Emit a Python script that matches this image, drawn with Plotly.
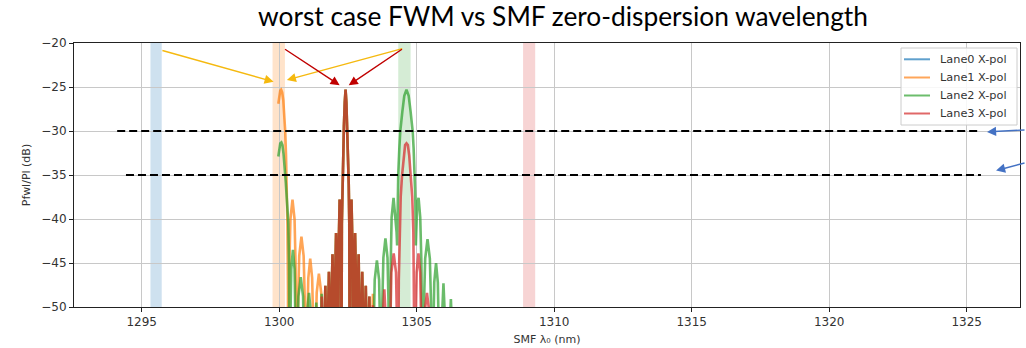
import plotly.graph_objects as go

# ---------------- data ----------------
lane_names = ["Lane0 X-pol", "Lane1 X-pol", "Lane2 X-pol", "Lane3 X-pol"]
lane_colors = ["rgba(31,119,180,0.7)", "rgba(255,127,14,0.7)", "rgba(44,160,44,0.7)", "rgba(214,39,40,0.7)"]
legend_colors = ["#5fa0cd", "#ffa65a", "#6cbd6c", "#e06868"]
band_colors = ["rgba(31,119,180,0.22)", "rgba(255,127,14,0.22)", "rgba(44,160,44,0.20)", "rgba(214,39,40,0.20)"]

# lane wavelength bands (nm)
band_lo = [1295.32, 1299.76, 1304.33, 1308.87]
band_hi = [1295.73, 1300.21, 1304.78, 1309.31]

# threshold levels (dB) and their extents (nm)
threshold_db = [-30, -35]
threshold_x0 = [1294.11, 1294.43]
threshold_x1 = [1325.41, 1325.52]

# central FWM peak shared by Lane1, Lane2 and Lane3
center_x = [1301.615, 1301.635, 1301.68, 1301.725,
            1301.745, 1301.765, 1301.81, 1301.855,
            1301.875, 1301.895, 1301.94, 1301.985,
            1302.005, 1302.025, 1302.07, 1302.115,
            1302.135, 1302.155, 1302.20, 1302.245,
            1302.265, 1302.28, 1302.30, 1302.325, 1302.355, 1302.385, 1302.415,
            1302.445, 1302.475, 1302.505, 1302.53, 1302.55,
            1302.565, 1302.585, 1302.63, 1302.675,
            1302.695, 1302.715, 1302.76, 1302.805,
            1302.825, 1302.845, 1302.89, 1302.935,
            1302.955, 1302.975, 1303.02, 1303.065,
            1303.085, 1303.105, 1303.15, 1303.195,
            1303.215, 1303.235, 1303.28, 1303.325]
center_y = [-60, -54.6, -47.6, -54.6,
            -60, -53.0, -46.0, -53.0,
            -60, -51.0, -44.0, -51.0,
            -60, -48.6, -41.6, -48.6,
            -60, -44.8, -37.8, -44.8,
            -60, -40.5, -36.0, -32.5, -29.5, -26.8, -25.3,
            -26.8, -29.5, -32.5, -36.0, -40.5,
            -60, -44.8, -37.8, -44.8,
            -60, -48.6, -41.6, -48.6,
            -60, -51.0, -44.0, -51.0,
            -60, -53.0, -46.0, -53.0,
            -60, -54.6, -47.6, -54.6,
            -60, -55.8, -48.8, -55.8]

lane0_x = [1299.97, 1306.38]
lane0_y = [-60, -60]

lane1_left_x = [1299.97, 1300.00, 1300.04, 1300.07, 1300.11, 1300.15, 1300.19, 1300.22, 1300.25, 1300.28, 1300.30, 1300.32,
                1300.33, 1300.375, 1300.41, 1300.485, 1300.56, 1300.595,
                1300.64, 1300.69, 1300.73, 1300.81, 1300.89, 1300.93,
                1300.98, 1301.025, 1301.06, 1301.13, 1301.20, 1301.235,
                1301.28, 1301.33, 1301.365, 1301.445, 1301.53, 1301.565]
lane1_left_y = [-26.9, -25.9, -25.4, -25.3, -25.6, -26.5, -28.0, -30.0, -32.8, -36.5, -40.5, -48.0,
                -60, -44.8, -40.0, -37.8, -40.0, -44.8,
                -60, -49.0, -44.2, -42.0, -44.2, -49.0,
                -60, -51.5, -46.7, -44.5, -46.7, -51.5,
                -60, -53.2, -48.4, -46.2, -48.4, -53.2]
lane1_right_x = [1303.345, 1303.365, 1303.41, 1303.455, 1303.475]
lane1_right_y = [-60, -55.5, -48.5, -55.5, -60]

lane2_left_x = [1299.97, 1300.00, 1300.04, 1300.08, 1300.12, 1300.16, 1300.20, 1300.24, 1300.28, 1300.33, 1300.36,
                1300.38, 1300.415, 1300.44, 1300.50, 1300.56, 1300.585,
                1300.62, 1300.67, 1300.70, 1300.785, 1300.87, 1300.90,
                1300.95, 1300.99, 1301.02, 1301.085, 1301.15, 1301.18,
                1301.22, 1301.26, 1301.35, 1301.44,
                1301.48, 1301.50, 1301.545, 1301.595]
lane2_left_y = [-32.9, -31.9, -31.4, -31.3, -31.6, -32.6, -34.0, -35.8, -37.8, -40.3, -45.0,
                -60, -50.5, -45.7, -43.5, -45.7, -50.5,
                -60, -53.6, -48.8, -46.6, -48.8, -53.6,
                -60, -55.4, -50.6, -48.4, -50.6, -55.4,
                -60, -56.5, -49.5, -56.5,
                -60, -55.5, -48.5, -55.5]
lane2_right_x = [1303.345, 1303.37, 1303.40,
                 1303.40, 1303.445, 1303.475, 1303.555, 1303.635, 1303.665,
                 1303.71, 1303.755, 1303.79, 1303.865, 1303.94, 1303.975,
                 1304.02, 1304.06, 1304.09, 1304.16, 1304.23, 1304.27,
                 1304.29, 1304.31, 1304.33, 1304.37, 1304.405, 1304.48, 1304.55, 1304.63,
                 1304.71, 1304.78, 1304.855, 1304.89, 1304.93, 1304.95,
                 1304.97, 1304.99, 1305.02, 1305.07, 1305.13, 1305.17,
                 1305.22, 1305.27, 1305.31, 1305.395, 1305.48, 1305.52,
                 1305.57, 1305.61, 1305.64, 1305.705, 1305.77, 1305.80,
                 1305.84, 1305.88, 1305.975, 1306.07,
                 1306.11, 1306.15, 1306.245, 1306.34, 1306.38]
lane2_right_y = [-60, -50.0, -60,
                 -60, -51.7, -46.9, -44.7, -46.9, -51.7,
                 -60, -49.2, -44.4, -42.2, -44.4, -49.2,
                 -60, -44.6, -39.8, -37.6, -39.8, -41.5,
                 -43.0, -37.5, -35.0, -32.0, -30.0, -27.8, -26.0, -25.3,
                 -26.0, -27.8, -30.0, -32.0, -35.0, -37.5,
                 -43.0, -41.5, -38.3, -37.6, -39.8, -44.6,
                 -60, -49.3, -44.5, -42.3, -44.5, -49.3,
                 -60, -52.0, -47.2, -45.0, -47.2, -52.0,
                 -60, -54.3, -47.3, -54.3,
                 -60, -56.1, -49.1, -56.1, -60]

lane3_left_x = [1301.485, 1301.505, 1301.55, 1301.595]
lane3_left_y = [-60, -55.8, -48.8, -55.8]
lane3_right_x = [1303.345, 1303.365, 1303.41, 1303.455, 1303.475,
                 1303.65, 1303.70, 1303.825, 1303.95,
                 1304.00, 1304.05, 1304.08, 1304.165, 1304.25, 1304.28,
                 1304.33, 1304.35, 1304.38, 1304.42, 1304.47, 1304.53, 1304.58, 1304.63,
                 1304.68, 1304.73, 1304.79, 1304.84, 1304.88, 1304.91,
                 1304.93, 1304.97, 1305.00, 1305.065, 1305.13, 1305.16,
                 1305.20, 1305.25, 1305.29, 1305.375, 1305.46, 1305.50, 1305.55]
lane3_right_y = [-60, -56.8, -49.8, -56.8, -60,
                 -60, -55.0, -48.0, -55.0,
                 -60, -50.9, -46.1, -43.9, -46.1, -50.9,
                 -60, -47.0, -41.5, -37.5, -35.0, -32.8, -31.6, -31.4,
                 -31.6, -32.8, -35.0, -37.5, -41.5, -47.0,
                 -60, -50.9, -46.1, -43.9, -46.1, -50.9,
                 -60, -55.4, -50.6, -48.4, -50.6, -55.4, -60]

lane1_x = lane1_left_x + center_x + lane1_right_x
lane1_y = lane1_left_y + center_y + lane1_right_y
lane2_x = lane2_left_x + center_x + lane2_right_x
lane2_y = lane2_left_y + center_y + lane2_right_y
lane3_x = lane3_left_x + center_x + lane3_right_x
lane3_y = lane3_left_y + center_y + lane3_right_y

series_x = [lane0_x, lane1_x, lane2_x, lane3_x]
series_y = [lane0_y, lane1_y, lane2_y, lane3_y]

# ---------------- figure ----------------
W, H = 1026, 348
L, R, T, B = 74, 6, 43, 41
PW, PH = W - L - R, H - T - B


def px_x(px):
    return (px - L) / PW


def px_y(py):
    return 1 - (py - T) / PH


fig = go.Figure()

for i in range(4):
    fig.add_trace(go.Scatter(x=series_x[i], y=series_y[i], mode="lines", name=lane_names[i],
                             showlegend=False, line=dict(color=lane_colors[i], width=2.6)))

for lvl, a, b in zip(threshold_db, threshold_x0, threshold_x1):
    fig.add_trace(go.Scatter(x=[a, b], y=[lvl, lvl], mode="lines", showlegend=False,
                             line=dict(color="black", width=1.8, dash="8px,4px")))

for lo, hi, c in zip(band_lo, band_hi, band_colors):
    fig.add_shape(type="rect", xref="x", yref="paper", x0=lo, x1=hi, y0=0, y1=1,
                  fillcolor=c, line=dict(width=0), layer="below")

# arrows: (tail_x, tail_y, head_x, head_y, colour)
yellow = "#F5B90F"
darkred = "#C00000"
data_arrows = [
    (1295.70, -20.8, 1299.80, -24.4, yellow),
    (1304.53, -20.6, 1300.28, -24.2, yellow),
    (1300.16, -20.6, 1302.20, -24.8, darkred),
    (1304.52, -20.6, 1302.53, -24.8, darkred),
]
for tx, ty, hx, hy, c in data_arrows:
    fig.add_annotation(x=hx, y=hy, ax=tx, ay=ty, xref="x", yref="y", axref="x", ayref="y",
                       text="", showarrow=True, arrowhead=2, arrowsize=1.3, arrowwidth=1.4,
                       arrowcolor=c)
blue = "#4472C4"
pixel_arrows = [(1325.74, -30.1, 44, -2), (1326.07, -34.5, 36, -8)]
for hx, hy, dx, dy in pixel_arrows:
    fig.add_annotation(x=hx, y=hy, ax=dx, ay=dy, xref="x", yref="y",
                       text="", showarrow=True, arrowhead=2, arrowsize=1.3, arrowwidth=1.4,
                       arrowcolor=blue)

# legend box (drawn like the matplotlib legend)
fig.add_shape(type="rect", xref="paper", yref="paper",
              x0=px_x(901), x1=px_x(1017), y0=px_y(125), y1=px_y(48),
              fillcolor="rgba(255,255,255,0.85)", line=dict(color="#cccccc", width=1), layer="above")
legend_rows = [59.3, 77.5, 95.5, 113.5]
for name, col, ry in zip(lane_names, legend_colors, legend_rows):
    fig.add_shape(type="line", xref="paper", yref="paper",
                  x0=px_x(904), x1=px_x(930), y0=px_y(ry), y1=px_y(ry),
                  line=dict(color=col, width=2), layer="above")
    fig.add_annotation(x=px_x(938), y=px_y(ry), xref="paper", yref="paper",
                       text=name, showarrow=False, xanchor="left", yanchor="middle",
                       font=dict(family="DejaVu Sans", size=11.3, color="#333333"))

tickfont = dict(family="DejaVu Sans", size=12, color="#333333")
fig.update_layout(
    width=W, height=H,
    margin=dict(l=L, r=R, t=T, b=B, pad=0),
    paper_bgcolor="white", plot_bgcolor="white",
    title=dict(text="worst case FWM vs SMF zero-dispersion wavelength",
               font=dict(family="Lato", size=26.3, color="black"),
               x=563 / W, xanchor="center", xref="container",
               y=1 - 17 / H, yanchor="middle", yref="container"),
    showlegend=False,
    xaxis=dict(range=[1292.54, 1326.94], tick0=1295, dtick=5, showgrid=True,
               gridcolor="#c8c8c8", gridwidth=1, zeroline=False,
               showline=True, linecolor="#222222", linewidth=1, mirror=True,
               ticks="outside", ticklen=4, tickcolor="#222222",
               tickfont=tickfont,
               title=dict(text="SMF λ₀ (nm)", font=dict(family="DejaVu Sans", size=11, color="#333333"),
                          standoff=6)),
    yaxis=dict(range=[-50, -20], tick0=-50, dtick=5, showgrid=True,
               gridcolor="#c8c8c8", gridwidth=1, zeroline=False,
               showline=True, linecolor="#222222", linewidth=1, mirror=True,
               ticks="outside", ticklen=4, tickcolor="#222222",
               tickfont=tickfont,
               title=dict(text="Pfwl/Pl (dB)", font=dict(family="DejaVu Sans", size=11, color="#333333"),
                          standoff=8)),
)

fig.write_html("out.html")
